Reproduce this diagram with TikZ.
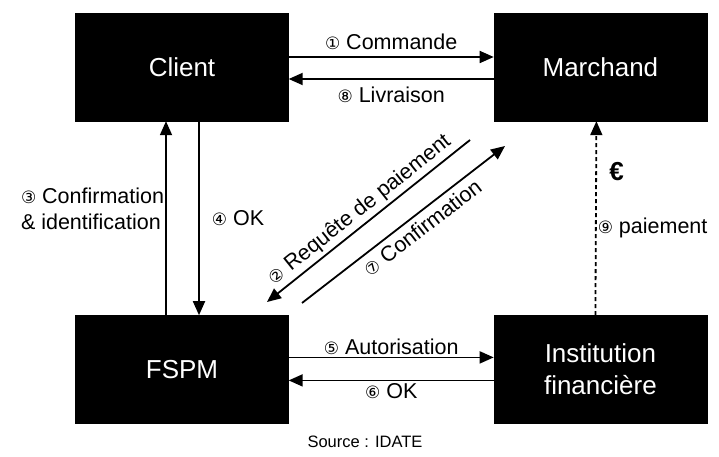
\documentclass[tikz,border=0pt]{standalone}
\usepackage{fontspec}
\setmainfont{Liberation Sans}
\newfontfamily\circfont{DejaVu Sans}
\usetikzlibrary{arrows.meta, positioning}
\tikzstyle{block} = [draw=black, fill=black, text=white, rectangle,
    minimum height=108pt, minimum width=213pt, inner sep=0pt, align=center,
    font=\fontsize{26}{32}\selectfont]
\tikzstyle{arrow} = [-{Triangle[length=14pt, width=12pt]}, line width=1.8pt, black]
\tikzstyle{lbl} = [font=\fontsize{21.5}{26}\selectfont, inner sep=2pt]
\newcommand{\nb}[1]{{\circfont\fontsize{17}{20}\selectfont #1}}

\begin{document}
\begin{tikzpicture}[x=1pt, y=-1pt]
  \useasboundingbox (0,0) rectangle (719,457);
  % Place the blocks
  \node [block] (client) at (182,67) {Client};
  \node [block, right=205pt of client] (marchand) {Marchand};
  \node [block, below=194pt of client] (fspm) {FSPM};
  \node [block, below=194pt of marchand] (inst) {Institution\\financière};
  \node [lbl, font=\fontsize{16.5}{20}\selectfont] (source) at (365,442) {Source : IDATE};
  \coordinate (rqa) at (470,140);
  \coordinate (rqb) at (267,302);
  \coordinate (cfa) at (302,303);
  \coordinate (cfb) at (505,146);

  % Connect the nodes
  \draw [arrow] ([yshift=10pt]client.east) -- node[lbl, above=4pt] {\nb{①} Commande} ([yshift=10pt]marchand.west);
  \draw [arrow] ([yshift=-12pt]marchand.west) -- node[lbl, below=5pt] {\nb{⑧} Livraison} ([yshift=-12pt]client.east);
  \draw [arrow] ([xshift=-16pt]fspm.north) -- node[lbl, pos=0.546, left, align=left, inner sep=1pt] {\nb{③} Confirmation\\\& identification} ([xshift=-16pt]client.south);
  \draw [arrow] ([xshift=17pt]client.south) -- node[lbl, pos=0.5, right=10pt] {\nb{④} OK} ([xshift=17pt]fspm.north);
  \draw [arrow] (rqa) -- node[lbl, sloped, above=1pt] {\nb{②} Requête de paiement} (rqb);
  \draw [arrow] (cfa) -- node[lbl, sloped, below=3pt, pos=0.55] {\nb{⑦} Confirmation} (cfb);
  \draw [arrow] ([yshift=12pt]fspm.east) -- node[lbl, above] {\nb{⑤} Autorisation} ([yshift=12pt]inst.west);
  \draw [arrow] ([yshift=-11pt]inst.west) -- node[lbl, below] {\nb{⑥} OK} ([yshift=-11pt]fspm.east);
  \draw [arrow, dash pattern=on 4pt off 3pt] ([xshift=-5pt]inst.north) --
    node[pos=0.45, right, lbl, inner sep=1pt] {\nb{⑨} paiement}
    node[pos=0.74, right=9pt, font=\fontsize{26}{30}\selectfont\bfseries] {€}
    ([xshift=-4pt]marchand.south);
\end{tikzpicture}
\end{document}
